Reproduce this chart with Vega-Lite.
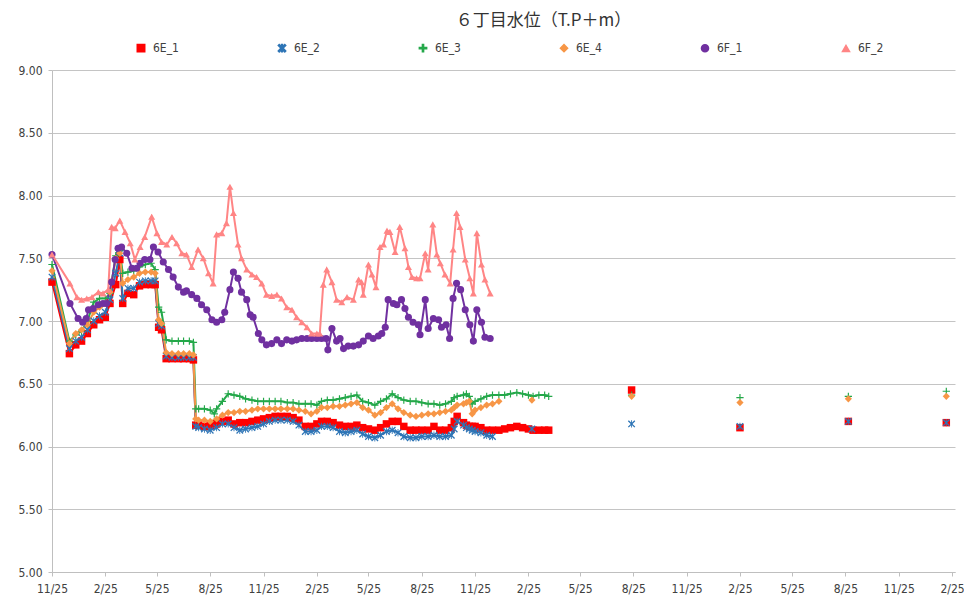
{
"$schema":"https://vega.github.io/schema/vega-lite/v6.json",
"width":903,"height":502,
"autosize":{"type":"none"},
"padding":{"left":52,"top":70,"right":9,"bottom":27},
"background":"white",
"title":{"text":"６丁目水位（T.P＋m）","fontSize":17,"font":"Noto Sans CJK JP","fontWeight":"normal","color":"#333333","anchor":"middle","dx":40,"offset":12},
"config":{"view":{"stroke":null},
"axis":{"labelFont":"Liberation Sans Narrow, DejaVu Sans Condensed, sans-serif","labelFontSize":12,"labelColor":"#404040","domainColor":"#BFBFBF","tickColor":"#BFBFBF","gridColor":"#C4C4C4","title":null},
"legend":{"labelFont":"Liberation Sans Narrow, DejaVu Sans Condensed, sans-serif","labelFontSize":12,"labelColor":"#404040"}},
"data":{"values":[
{"d":"2012-11-25","s":"6E_1","v":7.31,"g":0},{"d":"2012-12-25","s":"6E_1","v":6.74,"g":0},{"d":"2013-01-05","s":"6E_1","v":6.81,"g":0},{"d":"2013-01-15","s":"6E_1","v":6.84,"g":0},{"d":"2013-01-25","s":"6E_1","v":6.90,"g":0},{"d":"2013-02-05","s":"6E_1","v":6.97,"g":0},{"d":"2013-02-15","s":"6E_1","v":7.01,"g":0},{"d":"2013-02-25","s":"6E_1","v":7.03,"g":0},{"d":"2013-03-05","s":"6E_1","v":7.14,"g":0},{"d":"2013-03-15","s":"6E_1","v":7.29,"g":0},{"d":"2013-03-22","s":"6E_1","v":7.49,"g":0},{"d":"2013-03-27","s":"6E_1","v":7.14,"g":0},{"d":"2013-04-05","s":"6E_1","v":7.22,"g":0},{"d":"2013-04-15","s":"6E_1","v":7.21,"g":0},{"d":"2013-04-25","s":"6E_1","v":7.28,"g":0},{"d":"2013-05-05","s":"6E_1","v":7.29,"g":0},{"d":"2013-05-15","s":"6E_1","v":7.29,"g":0},{"d":"2013-05-22","s":"6E_1","v":7.29,"g":0},{"d":"2013-05-28","s":"6E_1","v":6.95,"g":0},{"d":"2013-06-02","s":"6E_1","v":6.93,"g":0},{"d":"2013-06-10","s":"6E_1","v":6.70,"g":0},{"d":"2013-06-20","s":"6E_1","v":6.70,"g":0},{"d":"2013-07-01","s":"6E_1","v":6.70,"g":0},{"d":"2013-07-10","s":"6E_1","v":6.70,"g":0},{"d":"2013-07-20","s":"6E_1","v":6.70,"g":0},{"d":"2013-07-27","s":"6E_1","v":6.69,"g":0},{"d":"2013-07-31","s":"6E_1","v":6.17,"g":0},{"d":"2013-08-05","s":"6E_1","v":6.17,"g":0},{"d":"2013-08-15","s":"6E_1","v":6.16,"g":0},{"d":"2013-08-25","s":"6E_1","v":6.17,"g":0},{"d":"2013-09-05","s":"6E_1","v":6.18,"g":0},{"d":"2013-09-15","s":"6E_1","v":6.20,"g":0},{"d":"2013-09-25","s":"6E_1","v":6.21,"g":0},{"d":"2013-10-05","s":"6E_1","v":6.18,"g":0},{"d":"2013-10-15","s":"6E_1","v":6.19,"g":0},{"d":"2013-10-25","s":"6E_1","v":6.19,"g":0},{"d":"2013-11-05","s":"6E_1","v":6.20,"g":0},{"d":"2013-11-15","s":"6E_1","v":6.21,"g":0},{"d":"2013-11-25","s":"6E_1","v":6.22,"g":0},{"d":"2013-12-05","s":"6E_1","v":6.23,"g":0},{"d":"2013-12-15","s":"6E_1","v":6.24,"g":0},{"d":"2013-12-25","s":"6E_1","v":6.24,"g":0},{"d":"2014-01-05","s":"6E_1","v":6.24,"g":0},{"d":"2014-01-15","s":"6E_1","v":6.23,"g":0},{"d":"2014-01-25","s":"6E_1","v":6.21,"g":0},{"d":"2014-02-05","s":"6E_1","v":6.16,"g":0},{"d":"2014-02-15","s":"6E_1","v":6.16,"g":0},{"d":"2014-02-25","s":"6E_1","v":6.18,"g":0},{"d":"2014-03-05","s":"6E_1","v":6.20,"g":0},{"d":"2014-03-15","s":"6E_1","v":6.20,"g":0},{"d":"2014-03-25","s":"6E_1","v":6.19,"g":0},{"d":"2014-04-05","s":"6E_1","v":6.17,"g":0},{"d":"2014-04-15","s":"6E_1","v":6.16,"g":0},{"d":"2014-04-25","s":"6E_1","v":6.16,"g":0},{"d":"2014-05-05","s":"6E_1","v":6.17,"g":0},{"d":"2014-05-15","s":"6E_1","v":6.15,"g":0},{"d":"2014-05-25","s":"6E_1","v":6.14,"g":0},{"d":"2014-06-05","s":"6E_1","v":6.13,"g":0},{"d":"2014-06-15","s":"6E_1","v":6.15,"g":0},{"d":"2014-06-25","s":"6E_1","v":6.18,"g":0},{"d":"2014-07-05","s":"6E_1","v":6.20,"g":0},{"d":"2014-07-15","s":"6E_1","v":6.20,"g":0},{"d":"2014-07-25","s":"6E_1","v":6.16,"g":0},{"d":"2014-08-05","s":"6E_1","v":6.13,"g":0},{"d":"2014-08-15","s":"6E_1","v":6.13,"g":0},{"d":"2014-08-25","s":"6E_1","v":6.13,"g":0},{"d":"2014-09-05","s":"6E_1","v":6.13,"g":0},{"d":"2014-09-15","s":"6E_1","v":6.16,"g":0},{"d":"2014-09-25","s":"6E_1","v":6.13,"g":0},{"d":"2014-10-05","s":"6E_1","v":6.13,"g":0},{"d":"2014-10-15","s":"6E_1","v":6.15,"g":0},{"d":"2014-10-20","s":"6E_1","v":6.20,"g":0},{"d":"2014-10-25","s":"6E_1","v":6.24,"g":0},{"d":"2014-11-05","s":"6E_1","v":6.19,"g":0},{"d":"2014-11-10","s":"6E_1","v":6.17,"g":0},{"d":"2014-11-15","s":"6E_1","v":6.16,"g":0},{"d":"2014-11-20","s":"6E_1","v":6.16,"g":0},{"d":"2014-11-25","s":"6E_1","v":6.16,"g":0},{"d":"2014-12-05","s":"6E_1","v":6.15,"g":0},{"d":"2014-12-15","s":"6E_1","v":6.13,"g":0},{"d":"2014-12-25","s":"6E_1","v":6.13,"g":0},{"d":"2015-01-05","s":"6E_1","v":6.13,"g":0},{"d":"2015-01-15","s":"6E_1","v":6.14,"g":0},{"d":"2015-01-25","s":"6E_1","v":6.15,"g":0},{"d":"2015-02-05","s":"6E_1","v":6.16,"g":0},{"d":"2015-02-15","s":"6E_1","v":6.15,"g":0},{"d":"2015-02-25","s":"6E_1","v":6.14,"g":0},{"d":"2015-03-05","s":"6E_1","v":6.13,"g":0},{"d":"2015-03-15","s":"6E_1","v":6.13,"g":0},{"d":"2015-03-25","s":"6E_1","v":6.13,"g":0},{"d":"2015-04-01","s":"6E_1","v":6.13,"g":0},
{"d":"2015-08-22","s":"6E_1","v":6.45,"g":1},{"d":"2016-02-25","s":"6E_1","v":6.15,"g":2},{"d":"2016-08-30","s":"6E_1","v":6.20,"g":3},{"d":"2017-02-15","s":"6E_1","v":6.19,"g":4},
{"d":"2012-11-25","s":"6E_2","v":7.35,"g":0},{"d":"2012-12-25","s":"6E_2","v":6.78,"g":0},{"d":"2013-01-05","s":"6E_2","v":6.84,"g":0},{"d":"2013-01-15","s":"6E_2","v":6.87,"g":0},{"d":"2013-01-25","s":"6E_2","v":6.93,"g":0},{"d":"2013-02-05","s":"6E_2","v":7.00,"g":0},{"d":"2013-02-15","s":"6E_2","v":7.04,"g":0},{"d":"2013-02-25","s":"6E_2","v":7.07,"g":0},{"d":"2013-03-05","s":"6E_2","v":7.17,"g":0},{"d":"2013-03-15","s":"6E_2","v":7.38,"g":0},{"d":"2013-03-22","s":"6E_2","v":7.54,"g":0},{"d":"2013-03-27","s":"6E_2","v":7.18,"g":0},{"d":"2013-04-05","s":"6E_2","v":7.26,"g":0},{"d":"2013-04-15","s":"6E_2","v":7.26,"g":0},{"d":"2013-04-25","s":"6E_2","v":7.31,"g":0},{"d":"2013-05-05","s":"6E_2","v":7.32,"g":0},{"d":"2013-05-15","s":"6E_2","v":7.32,"g":0},{"d":"2013-05-22","s":"6E_2","v":7.32,"g":0},{"d":"2013-05-28","s":"6E_2","v":6.98,"g":0},{"d":"2013-06-02","s":"6E_2","v":6.96,"g":0},{"d":"2013-06-10","s":"6E_2","v":6.72,"g":0},{"d":"2013-06-20","s":"6E_2","v":6.71,"g":0},{"d":"2013-07-01","s":"6E_2","v":6.71,"g":0},{"d":"2013-07-10","s":"6E_2","v":6.71,"g":0},{"d":"2013-07-20","s":"6E_2","v":6.71,"g":0},{"d":"2013-07-27","s":"6E_2","v":6.71,"g":0},{"d":"2013-07-31","s":"6E_2","v":6.16,"g":0},{"d":"2013-08-05","s":"6E_2","v":6.15,"g":0},{"d":"2013-08-15","s":"6E_2","v":6.14,"g":0},{"d":"2013-08-25","s":"6E_2","v":6.13,"g":0},{"d":"2013-09-05","s":"6E_2","v":6.15,"g":0},{"d":"2013-09-15","s":"6E_2","v":6.18,"g":0},{"d":"2013-09-25","s":"6E_2","v":6.18,"g":0},{"d":"2013-10-05","s":"6E_2","v":6.15,"g":0},{"d":"2013-10-15","s":"6E_2","v":6.13,"g":0},{"d":"2013-10-25","s":"6E_2","v":6.14,"g":0},{"d":"2013-11-05","s":"6E_2","v":6.15,"g":0},{"d":"2013-11-15","s":"6E_2","v":6.16,"g":0},{"d":"2013-11-25","s":"6E_2","v":6.18,"g":0},{"d":"2013-12-05","s":"6E_2","v":6.20,"g":0},{"d":"2013-12-15","s":"6E_2","v":6.21,"g":0},{"d":"2013-12-25","s":"6E_2","v":6.21,"g":0},{"d":"2014-01-05","s":"6E_2","v":6.21,"g":0},{"d":"2014-01-15","s":"6E_2","v":6.20,"g":0},{"d":"2014-01-25","s":"6E_2","v":6.17,"g":0},{"d":"2014-02-05","s":"6E_2","v":6.12,"g":0},{"d":"2014-02-15","s":"6E_2","v":6.12,"g":0},{"d":"2014-02-25","s":"6E_2","v":6.13,"g":0},{"d":"2014-03-05","s":"6E_2","v":6.16,"g":0},{"d":"2014-03-15","s":"6E_2","v":6.16,"g":0},{"d":"2014-03-25","s":"6E_2","v":6.15,"g":0},{"d":"2014-04-05","s":"6E_2","v":6.12,"g":0},{"d":"2014-04-15","s":"6E_2","v":6.11,"g":0},{"d":"2014-04-25","s":"6E_2","v":6.12,"g":0},{"d":"2014-05-05","s":"6E_2","v":6.13,"g":0},{"d":"2014-05-15","s":"6E_2","v":6.10,"g":0},{"d":"2014-05-25","s":"6E_2","v":6.08,"g":0},{"d":"2014-06-05","s":"6E_2","v":6.07,"g":0},{"d":"2014-06-15","s":"6E_2","v":6.09,"g":0},{"d":"2014-06-25","s":"6E_2","v":6.12,"g":0},{"d":"2014-07-05","s":"6E_2","v":6.13,"g":0},{"d":"2014-07-15","s":"6E_2","v":6.11,"g":0},{"d":"2014-07-25","s":"6E_2","v":6.08,"g":0},{"d":"2014-08-05","s":"6E_2","v":6.07,"g":0},{"d":"2014-08-15","s":"6E_2","v":6.07,"g":0},{"d":"2014-08-25","s":"6E_2","v":6.08,"g":0},{"d":"2014-09-05","s":"6E_2","v":6.08,"g":0},{"d":"2014-09-15","s":"6E_2","v":6.09,"g":0},{"d":"2014-09-25","s":"6E_2","v":6.08,"g":0},{"d":"2014-10-05","s":"6E_2","v":6.08,"g":0},{"d":"2014-10-15","s":"6E_2","v":6.09,"g":0},{"d":"2014-10-20","s":"6E_2","v":6.14,"g":0},{"d":"2014-10-25","s":"6E_2","v":6.20,"g":0},{"d":"2014-11-05","s":"6E_2","v":6.17,"g":0},{"d":"2014-11-10","s":"6E_2","v":6.15,"g":0},{"d":"2014-11-15","s":"6E_2","v":6.14,"g":0},{"d":"2014-11-20","s":"6E_2","v":6.13,"g":0},{"d":"2014-11-25","s":"6E_2","v":6.12,"g":0},{"d":"2014-12-05","s":"6E_2","v":6.11,"g":0},{"d":"2014-12-15","s":"6E_2","v":6.09,"g":0},{"d":"2014-12-25","s":"6E_2","v":6.08,"g":0},
{"d":"2015-03-03","s":"6E_2","v":6.14,"g":1},{"d":"2015-08-22","s":"6E_2","v":6.18,"g":2},{"d":"2016-02-25","s":"6E_2","v":6.16,"g":3},{"d":"2016-08-30","s":"6E_2","v":6.20,"g":4},{"d":"2017-02-15","s":"6E_2","v":6.19,"g":5},
{"d":"2012-11-25","s":"6E_3","v":7.45,"g":0},{"d":"2012-12-25","s":"6E_3","v":6.84,"g":0},{"d":"2013-01-05","s":"6E_3","v":6.89,"g":0},{"d":"2013-01-15","s":"6E_3","v":6.92,"g":0},{"d":"2013-01-25","s":"6E_3","v":7.00,"g":0},{"d":"2013-02-05","s":"6E_3","v":7.15,"g":0},{"d":"2013-02-15","s":"6E_3","v":7.18,"g":0},{"d":"2013-02-25","s":"6E_3","v":7.18,"g":0},{"d":"2013-03-05","s":"6E_3","v":7.22,"g":0},{"d":"2013-03-15","s":"6E_3","v":7.52,"g":0},{"d":"2013-03-22","s":"6E_3","v":7.56,"g":0},{"d":"2013-03-27","s":"6E_3","v":7.38,"g":0},{"d":"2013-04-05","s":"6E_3","v":7.39,"g":0},{"d":"2013-04-15","s":"6E_3","v":7.40,"g":0},{"d":"2013-04-25","s":"6E_3","v":7.43,"g":0},{"d":"2013-05-05","s":"6E_3","v":7.45,"g":0},{"d":"2013-05-15","s":"6E_3","v":7.46,"g":0},{"d":"2013-05-22","s":"6E_3","v":7.41,"g":0},{"d":"2013-05-28","s":"6E_3","v":7.11,"g":0},{"d":"2013-06-02","s":"6E_3","v":7.07,"g":0},{"d":"2013-06-10","s":"6E_3","v":6.85,"g":0},{"d":"2013-06-20","s":"6E_3","v":6.84,"g":0},{"d":"2013-07-01","s":"6E_3","v":6.84,"g":0},{"d":"2013-07-10","s":"6E_3","v":6.84,"g":0},{"d":"2013-07-20","s":"6E_3","v":6.84,"g":0},{"d":"2013-07-27","s":"6E_3","v":6.83,"g":0},{"d":"2013-07-31","s":"6E_3","v":6.30,"g":0},{"d":"2013-08-05","s":"6E_3","v":6.30,"g":0},{"d":"2013-08-15","s":"6E_3","v":6.30,"g":0},{"d":"2013-08-25","s":"6E_3","v":6.29,"g":0},{"d":"2013-09-01","s":"6E_3","v":6.26,"g":0},{"d":"2013-09-05","s":"6E_3","v":6.30,"g":0},{"d":"2013-09-15","s":"6E_3","v":6.36,"g":0},{"d":"2013-09-25","s":"6E_3","v":6.42,"g":0},{"d":"2013-10-05","s":"6E_3","v":6.41,"g":0},{"d":"2013-10-15","s":"6E_3","v":6.40,"g":0},{"d":"2013-10-25","s":"6E_3","v":6.38,"g":0},{"d":"2013-11-05","s":"6E_3","v":6.37,"g":0},{"d":"2013-11-15","s":"6E_3","v":6.36,"g":0},{"d":"2013-11-25","s":"6E_3","v":6.36,"g":0},{"d":"2013-12-05","s":"6E_3","v":6.36,"g":0},{"d":"2013-12-15","s":"6E_3","v":6.36,"g":0},{"d":"2013-12-25","s":"6E_3","v":6.36,"g":0},{"d":"2014-01-05","s":"6E_3","v":6.35,"g":0},{"d":"2014-01-15","s":"6E_3","v":6.35,"g":0},{"d":"2014-01-25","s":"6E_3","v":6.34,"g":0},{"d":"2014-02-05","s":"6E_3","v":6.34,"g":0},{"d":"2014-02-15","s":"6E_3","v":6.34,"g":0},{"d":"2014-02-25","s":"6E_3","v":6.33,"g":0},{"d":"2014-03-05","s":"6E_3","v":6.36,"g":0},{"d":"2014-03-15","s":"6E_3","v":6.37,"g":0},{"d":"2014-03-25","s":"6E_3","v":6.37,"g":0},{"d":"2014-04-05","s":"6E_3","v":6.38,"g":0},{"d":"2014-04-15","s":"6E_3","v":6.39,"g":0},{"d":"2014-04-25","s":"6E_3","v":6.40,"g":0},{"d":"2014-05-05","s":"6E_3","v":6.41,"g":0},{"d":"2014-05-15","s":"6E_3","v":6.36,"g":0},{"d":"2014-05-25","s":"6E_3","v":6.35,"g":0},{"d":"2014-06-05","s":"6E_3","v":6.33,"g":0},{"d":"2014-06-15","s":"6E_3","v":6.36,"g":0},{"d":"2014-06-25","s":"6E_3","v":6.38,"g":0},{"d":"2014-07-05","s":"6E_3","v":6.42,"g":0},{"d":"2014-07-15","s":"6E_3","v":6.39,"g":0},{"d":"2014-07-25","s":"6E_3","v":6.37,"g":0},{"d":"2014-08-05","s":"6E_3","v":6.36,"g":0},{"d":"2014-08-15","s":"6E_3","v":6.36,"g":0},{"d":"2014-08-25","s":"6E_3","v":6.35,"g":0},{"d":"2014-09-05","s":"6E_3","v":6.34,"g":0},{"d":"2014-09-15","s":"6E_3","v":6.34,"g":0},{"d":"2014-09-25","s":"6E_3","v":6.33,"g":0},{"d":"2014-10-05","s":"6E_3","v":6.34,"g":0},{"d":"2014-10-15","s":"6E_3","v":6.36,"g":0},{"d":"2014-10-20","s":"6E_3","v":6.39,"g":0},{"d":"2014-10-25","s":"6E_3","v":6.40,"g":0},{"d":"2014-11-05","s":"6E_3","v":6.41,"g":0},{"d":"2014-11-10","s":"6E_3","v":6.42,"g":0},{"d":"2014-11-15","s":"6E_3","v":6.40,"g":0},{"d":"2014-11-20","s":"6E_3","v":6.34,"g":0},{"d":"2014-11-25","s":"6E_3","v":6.36,"g":0},{"d":"2014-12-05","s":"6E_3","v":6.38,"g":0},{"d":"2014-12-15","s":"6E_3","v":6.40,"g":0},{"d":"2014-12-25","s":"6E_3","v":6.41,"g":0},{"d":"2015-01-05","s":"6E_3","v":6.41,"g":0},{"d":"2015-01-15","s":"6E_3","v":6.41,"g":0},{"d":"2015-01-25","s":"6E_3","v":6.42,"g":0},{"d":"2015-02-05","s":"6E_3","v":6.43,"g":0},{"d":"2015-02-15","s":"6E_3","v":6.42,"g":0},{"d":"2015-02-25","s":"6E_3","v":6.41,"g":0},{"d":"2015-03-05","s":"6E_3","v":6.40,"g":0},{"d":"2015-03-15","s":"6E_3","v":6.41,"g":0},{"d":"2015-03-25","s":"6E_3","v":6.41,"g":0},{"d":"2015-04-01","s":"6E_3","v":6.40,"g":0},
{"d":"2015-08-22","s":"6E_3","v":6.41,"g":1},{"d":"2016-02-25","s":"6E_3","v":6.39,"g":2},{"d":"2016-08-30","s":"6E_3","v":6.40,"g":3},{"d":"2017-02-15","s":"6E_3","v":6.44,"g":4},
{"d":"2012-11-25","s":"6E_4","v":7.40,"g":0},{"d":"2012-12-25","s":"6E_4","v":6.82,"g":0},{"d":"2013-01-05","s":"6E_4","v":6.90,"g":0},{"d":"2013-01-15","s":"6E_4","v":6.93,"g":0},{"d":"2013-01-25","s":"6E_4","v":6.97,"g":0},{"d":"2013-02-05","s":"6E_4","v":7.07,"g":0},{"d":"2013-02-15","s":"6E_4","v":7.11,"g":0},{"d":"2013-02-25","s":"6E_4","v":7.14,"g":0},{"d":"2013-03-05","s":"6E_4","v":7.23,"g":0},{"d":"2013-03-15","s":"6E_4","v":7.50,"g":0},{"d":"2013-03-22","s":"6E_4","v":7.54,"g":0},{"d":"2013-03-27","s":"6E_4","v":7.30,"g":0},{"d":"2013-04-05","s":"6E_4","v":7.33,"g":0},{"d":"2013-04-15","s":"6E_4","v":7.35,"g":0},{"d":"2013-04-25","s":"6E_4","v":7.38,"g":0},{"d":"2013-05-05","s":"6E_4","v":7.39,"g":0},{"d":"2013-05-15","s":"6E_4","v":7.39,"g":0},{"d":"2013-05-22","s":"6E_4","v":7.38,"g":0},{"d":"2013-05-28","s":"6E_4","v":7.01,"g":0},{"d":"2013-06-02","s":"6E_4","v":6.98,"g":0},{"d":"2013-06-10","s":"6E_4","v":6.75,"g":0},{"d":"2013-06-20","s":"6E_4","v":6.74,"g":0},{"d":"2013-07-01","s":"6E_4","v":6.74,"g":0},{"d":"2013-07-10","s":"6E_4","v":6.74,"g":0},{"d":"2013-07-20","s":"6E_4","v":6.74,"g":0},{"d":"2013-07-27","s":"6E_4","v":6.73,"g":0},{"d":"2013-07-31","s":"6E_4","v":6.22,"g":0},{"d":"2013-08-05","s":"6E_4","v":6.21,"g":0},{"d":"2013-08-15","s":"6E_4","v":6.21,"g":0},{"d":"2013-08-25","s":"6E_4","v":6.20,"g":0},{"d":"2013-09-05","s":"6E_4","v":6.22,"g":0},{"d":"2013-09-15","s":"6E_4","v":6.25,"g":0},{"d":"2013-09-25","s":"6E_4","v":6.27,"g":0},{"d":"2013-10-05","s":"6E_4","v":6.27,"g":0},{"d":"2013-10-15","s":"6E_4","v":6.28,"g":0},{"d":"2013-10-25","s":"6E_4","v":6.28,"g":0},{"d":"2013-11-05","s":"6E_4","v":6.29,"g":0},{"d":"2013-11-15","s":"6E_4","v":6.30,"g":0},{"d":"2013-11-25","s":"6E_4","v":6.30,"g":0},{"d":"2013-12-05","s":"6E_4","v":6.30,"g":0},{"d":"2013-12-15","s":"6E_4","v":6.30,"g":0},{"d":"2013-12-25","s":"6E_4","v":6.30,"g":0},{"d":"2014-01-05","s":"6E_4","v":6.30,"g":0},{"d":"2014-01-15","s":"6E_4","v":6.30,"g":0},{"d":"2014-01-25","s":"6E_4","v":6.29,"g":0},{"d":"2014-02-05","s":"6E_4","v":6.28,"g":0},{"d":"2014-02-15","s":"6E_4","v":6.26,"g":0},{"d":"2014-02-25","s":"6E_4","v":6.28,"g":0},{"d":"2014-03-05","s":"6E_4","v":6.31,"g":0},{"d":"2014-03-15","s":"6E_4","v":6.31,"g":0},{"d":"2014-03-25","s":"6E_4","v":6.32,"g":0},{"d":"2014-04-05","s":"6E_4","v":6.32,"g":0},{"d":"2014-04-15","s":"6E_4","v":6.33,"g":0},{"d":"2014-04-25","s":"6E_4","v":6.34,"g":0},{"d":"2014-05-05","s":"6E_4","v":6.35,"g":0},{"d":"2014-05-15","s":"6E_4","v":6.31,"g":0},{"d":"2014-05-25","s":"6E_4","v":6.29,"g":0},{"d":"2014-06-05","s":"6E_4","v":6.25,"g":0},{"d":"2014-06-15","s":"6E_4","v":6.27,"g":0},{"d":"2014-06-25","s":"6E_4","v":6.31,"g":0},{"d":"2014-07-05","s":"6E_4","v":6.34,"g":0},{"d":"2014-07-15","s":"6E_4","v":6.30,"g":0},{"d":"2014-07-25","s":"6E_4","v":6.27,"g":0},{"d":"2014-08-05","s":"6E_4","v":6.25,"g":0},{"d":"2014-08-15","s":"6E_4","v":6.24,"g":0},{"d":"2014-08-25","s":"6E_4","v":6.25,"g":0},{"d":"2014-09-05","s":"6E_4","v":6.26,"g":0},{"d":"2014-09-15","s":"6E_4","v":6.26,"g":0},{"d":"2014-09-25","s":"6E_4","v":6.27,"g":0},{"d":"2014-10-05","s":"6E_4","v":6.28,"g":0},{"d":"2014-10-15","s":"6E_4","v":6.29,"g":0},{"d":"2014-10-20","s":"6E_4","v":6.31,"g":0},{"d":"2014-10-25","s":"6E_4","v":6.33,"g":0},{"d":"2014-11-05","s":"6E_4","v":6.34,"g":0},{"d":"2014-11-10","s":"6E_4","v":6.35,"g":0},{"d":"2014-11-15","s":"6E_4","v":6.36,"g":0},{"d":"2014-11-20","s":"6E_4","v":6.26,"g":0},{"d":"2014-11-25","s":"6E_4","v":6.29,"g":0},{"d":"2014-12-05","s":"6E_4","v":6.31,"g":0},{"d":"2014-12-15","s":"6E_4","v":6.33,"g":0},{"d":"2014-12-25","s":"6E_4","v":6.34,"g":0},{"d":"2015-01-05","s":"6E_4","v":6.36,"g":0},
{"d":"2015-03-03","s":"6E_4","v":6.37,"g":1},{"d":"2015-08-22","s":"6E_4","v":6.40,"g":2},{"d":"2016-02-25","s":"6E_4","v":6.35,"g":3},{"d":"2016-08-30","s":"6E_4","v":6.38,"g":4},{"d":"2017-02-15","s":"6E_4","v":6.40,"g":5},
{"d":"2012-11-25","s":"6F_1","v":7.53,"g":0},{"d":"2012-12-26","s":"6F_1","v":7.14,"g":0},{"d":"2013-01-09","s":"6F_1","v":7.02,"g":0},{"d":"2013-01-17","s":"6F_1","v":6.99,"g":0},{"d":"2013-01-23","s":"6F_1","v":7.02,"g":0},{"d":"2013-01-27","s":"6F_1","v":7.09,"g":0},{"d":"2013-02-04","s":"6F_1","v":7.10,"g":0},{"d":"2013-02-13","s":"6F_1","v":7.13,"g":0},{"d":"2013-02-21","s":"6F_1","v":7.14,"g":0},{"d":"2013-02-27","s":"6F_1","v":7.14,"g":0},{"d":"2013-03-08","s":"6F_1","v":7.31,"g":0},{"d":"2013-03-14","s":"6F_1","v":7.49,"g":0},{"d":"2013-03-19","s":"6F_1","v":7.58,"g":0},{"d":"2013-03-25","s":"6F_1","v":7.59,"g":0},{"d":"2013-04-03","s":"6F_1","v":7.54,"g":0},{"d":"2013-04-12","s":"6F_1","v":7.42,"g":0},{"d":"2013-04-20","s":"6F_1","v":7.42,"g":0},{"d":"2013-04-26","s":"6F_1","v":7.46,"g":0},{"d":"2013-05-04","s":"6F_1","v":7.49,"g":0},{"d":"2013-05-13","s":"6F_1","v":7.49,"g":0},{"d":"2013-05-19","s":"6F_1","v":7.59,"g":0},{"d":"2013-05-27","s":"6F_1","v":7.55,"g":0},{"d":"2013-06-05","s":"6F_1","v":7.47,"g":0},{"d":"2013-06-14","s":"6F_1","v":7.41,"g":0},{"d":"2013-06-22","s":"6F_1","v":7.35,"g":0},{"d":"2013-07-01","s":"6F_1","v":7.27,"g":0},{"d":"2013-07-10","s":"6F_1","v":7.23,"g":0},{"d":"2013-07-15","s":"6F_1","v":7.24,"g":0},{"d":"2013-07-24","s":"6F_1","v":7.21,"g":0},{"d":"2013-08-02","s":"6F_1","v":7.18,"g":0},{"d":"2013-08-10","s":"6F_1","v":7.13,"g":0},{"d":"2013-08-19","s":"6F_1","v":7.09,"g":0},{"d":"2013-08-28","s":"6F_1","v":7.01,"g":0},{"d":"2013-09-05","s":"6F_1","v":6.99,"g":0},{"d":"2013-09-14","s":"6F_1","v":7.01,"g":0},{"d":"2013-09-19","s":"6F_1","v":7.07,"g":0},{"d":"2013-09-28","s":"6F_1","v":7.25,"g":0},{"d":"2013-10-04","s":"6F_1","v":7.39,"g":0},{"d":"2013-10-12","s":"6F_1","v":7.34,"g":0},{"d":"2013-10-18","s":"6F_1","v":7.23,"g":0},{"d":"2013-10-27","s":"6F_1","v":7.17,"g":0},{"d":"2013-11-02","s":"6F_1","v":7.05,"g":0},{"d":"2013-11-07","s":"6F_1","v":7.03,"g":0},{"d":"2013-11-16","s":"6F_1","v":6.90,"g":0},{"d":"2013-11-22","s":"6F_1","v":6.85,"g":0},{"d":"2013-11-30","s":"6F_1","v":6.81,"g":0},{"d":"2013-12-09","s":"6F_1","v":6.82,"g":0},{"d":"2013-12-18","s":"6F_1","v":6.85,"g":0},{"d":"2013-12-26","s":"6F_1","v":6.82,"g":0},{"d":"2014-01-04","s":"6F_1","v":6.85,"g":0},{"d":"2014-01-13","s":"6F_1","v":6.84,"g":0},{"d":"2014-01-21","s":"6F_1","v":6.85,"g":0},{"d":"2014-01-30","s":"6F_1","v":6.86,"g":0},{"d":"2014-02-08","s":"6F_1","v":6.86,"g":0},{"d":"2014-02-16","s":"6F_1","v":6.86,"g":0},{"d":"2014-02-25","s":"6F_1","v":6.86,"g":0},{"d":"2014-03-05","s":"6F_1","v":6.86,"g":0},{"d":"2014-03-13","s":"6F_1","v":6.86,"g":0},{"d":"2014-03-16","s":"6F_1","v":6.77,"g":0},{"d":"2014-03-23","s":"6F_1","v":6.94,"g":0},{"d":"2014-03-31","s":"6F_1","v":6.84,"g":0},{"d":"2014-04-06","s":"6F_1","v":6.86,"g":0},{"d":"2014-04-12","s":"6F_1","v":6.78,"g":0},{"d":"2014-04-20","s":"6F_1","v":6.80,"g":0},{"d":"2014-04-29","s":"6F_1","v":6.80,"g":0},{"d":"2014-05-08","s":"6F_1","v":6.81,"g":0},{"d":"2014-05-16","s":"6F_1","v":6.84,"g":0},{"d":"2014-05-25","s":"6F_1","v":6.88,"g":0},{"d":"2014-06-02","s":"6F_1","v":6.86,"g":0},{"d":"2014-06-11","s":"6F_1","v":6.88,"g":0},{"d":"2014-06-17","s":"6F_1","v":6.90,"g":0},{"d":"2014-06-23","s":"6F_1","v":6.95,"g":0},{"d":"2014-06-28","s":"6F_1","v":7.17,"g":0},{"d":"2014-07-07","s":"6F_1","v":7.14,"g":0},{"d":"2014-07-13","s":"6F_1","v":7.13,"g":0},{"d":"2014-07-21","s":"6F_1","v":7.17,"g":0},{"d":"2014-07-27","s":"6F_1","v":7.10,"g":0},{"d":"2014-08-02","s":"6F_1","v":7.03,"g":0},{"d":"2014-08-10","s":"6F_1","v":6.99,"g":0},{"d":"2014-08-19","s":"6F_1","v":6.97,"g":0},{"d":"2014-08-22","s":"6F_1","v":6.89,"g":0},{"d":"2014-08-31","s":"6F_1","v":7.17,"g":0},{"d":"2014-09-05","s":"6F_1","v":6.94,"g":0},{"d":"2014-09-14","s":"6F_1","v":7.02,"g":0},{"d":"2014-09-23","s":"6F_1","v":7.01,"g":0},{"d":"2014-09-28","s":"6F_1","v":6.95,"g":0},{"d":"2014-10-06","s":"6F_1","v":6.97,"g":0},{"d":"2014-10-12","s":"6F_1","v":6.86,"g":0},{"d":"2014-10-18","s":"6F_1","v":7.18,"g":0},{"d":"2014-10-24","s":"6F_1","v":7.30,"g":0},{"d":"2014-10-31","s":"6F_1","v":7.25,"g":0},{"d":"2014-11-08","s":"6F_1","v":7.09,"g":0},{"d":"2014-11-16","s":"6F_1","v":6.97,"g":0},{"d":"2014-11-22","s":"6F_1","v":6.84,"g":0},{"d":"2014-11-28","s":"6F_1","v":7.09,"g":0},{"d":"2014-12-06","s":"6F_1","v":6.99,"g":0},{"d":"2014-12-12","s":"6F_1","v":6.87,"g":0},{"d":"2014-12-21","s":"6F_1","v":6.86,"g":0},
{"d":"2012-11-25","s":"6F_2","v":7.53,"g":0},{"d":"2012-12-26","s":"6F_2","v":7.30,"g":0},{"d":"2013-01-07","s":"6F_2","v":7.19,"g":0},{"d":"2013-01-15","s":"6F_2","v":7.17,"g":0},{"d":"2013-01-24","s":"6F_2","v":7.18,"g":0},{"d":"2013-02-02","s":"6F_2","v":7.19,"g":0},{"d":"2013-02-13","s":"6F_2","v":7.23,"g":0},{"d":"2013-02-21","s":"6F_2","v":7.22,"g":0},{"d":"2013-03-02","s":"6F_2","v":7.25,"g":0},{"d":"2013-03-08","s":"6F_2","v":7.75,"g":0},{"d":"2013-03-14","s":"6F_2","v":7.74,"g":0},{"d":"2013-03-22","s":"6F_2","v":7.80,"g":0},{"d":"2013-03-31","s":"6F_2","v":7.71,"g":0},{"d":"2013-04-09","s":"6F_2","v":7.62,"g":0},{"d":"2013-04-17","s":"6F_2","v":7.49,"g":0},{"d":"2013-04-26","s":"6F_2","v":7.59,"g":0},{"d":"2013-05-04","s":"6F_2","v":7.67,"g":0},{"d":"2013-05-16","s":"6F_2","v":7.83,"g":0},{"d":"2013-05-25","s":"6F_2","v":7.70,"g":0},{"d":"2013-06-02","s":"6F_2","v":7.63,"g":0},{"d":"2013-06-11","s":"6F_2","v":7.61,"g":0},{"d":"2013-06-20","s":"6F_2","v":7.67,"g":0},{"d":"2013-06-28","s":"6F_2","v":7.62,"g":0},{"d":"2013-07-07","s":"6F_2","v":7.54,"g":0},{"d":"2013-07-15","s":"6F_2","v":7.53,"g":0},{"d":"2013-07-24","s":"6F_2","v":7.43,"g":0},{"d":"2013-08-04","s":"6F_2","v":7.57,"g":0},{"d":"2013-08-13","s":"6F_2","v":7.50,"g":0},{"d":"2013-08-22","s":"6F_2","v":7.38,"g":0},{"d":"2013-08-30","s":"6F_2","v":7.30,"g":0},{"d":"2013-09-05","s":"6F_2","v":7.69,"g":0},{"d":"2013-09-14","s":"6F_2","v":7.70,"g":0},{"d":"2013-09-22","s":"6F_2","v":7.78,"g":0},{"d":"2013-09-28","s":"6F_2","v":8.07,"g":0},{"d":"2013-10-04","s":"6F_2","v":7.86,"g":0},{"d":"2013-10-12","s":"6F_2","v":7.61,"g":0},{"d":"2013-10-18","s":"6F_2","v":7.50,"g":0},{"d":"2013-10-27","s":"6F_2","v":7.41,"g":0},{"d":"2013-11-05","s":"6F_2","v":7.37,"g":0},{"d":"2013-11-13","s":"6F_2","v":7.35,"g":0},{"d":"2013-11-22","s":"6F_2","v":7.30,"g":0},{"d":"2013-11-30","s":"6F_2","v":7.21,"g":0},{"d":"2013-12-09","s":"6F_2","v":7.20,"g":0},{"d":"2013-12-18","s":"6F_2","v":7.21,"g":0},{"d":"2013-12-26","s":"6F_2","v":7.18,"g":0},{"d":"2014-01-04","s":"6F_2","v":7.11,"g":0},{"d":"2014-01-13","s":"6F_2","v":7.09,"g":0},{"d":"2014-01-21","s":"6F_2","v":7.03,"g":0},{"d":"2014-01-30","s":"6F_2","v":6.99,"g":0},{"d":"2014-02-08","s":"6F_2","v":6.95,"g":0},{"d":"2014-02-16","s":"6F_2","v":6.90,"g":0},{"d":"2014-02-25","s":"6F_2","v":6.90,"g":0},{"d":"2014-03-02","s":"6F_2","v":6.90,"g":0},{"d":"2014-03-08","s":"6F_2","v":7.29,"g":0},{"d":"2014-03-14","s":"6F_2","v":7.41,"g":0},{"d":"2014-03-23","s":"6F_2","v":7.31,"g":0},{"d":"2014-03-31","s":"6F_2","v":7.17,"g":0},{"d":"2014-04-09","s":"6F_2","v":7.15,"g":0},{"d":"2014-04-18","s":"6F_2","v":7.19,"g":0},{"d":"2014-04-29","s":"6F_2","v":7.17,"g":0},{"d":"2014-05-08","s":"6F_2","v":7.33,"g":0},{"d":"2014-05-13","s":"6F_2","v":7.31,"g":0},{"d":"2014-05-16","s":"6F_2","v":7.21,"g":0},{"d":"2014-05-25","s":"6F_2","v":7.45,"g":0},{"d":"2014-05-31","s":"6F_2","v":7.37,"g":0},{"d":"2014-06-07","s":"6F_2","v":7.27,"g":0},{"d":"2014-06-14","s":"6F_2","v":7.59,"g":0},{"d":"2014-06-20","s":"6F_2","v":7.61,"g":0},{"d":"2014-06-26","s":"6F_2","v":7.72,"g":0},{"d":"2014-07-01","s":"6F_2","v":7.71,"g":0},{"d":"2014-07-10","s":"6F_2","v":7.55,"g":0},{"d":"2014-07-18","s":"6F_2","v":7.75,"g":0},{"d":"2014-07-27","s":"6F_2","v":7.58,"g":0},{"d":"2014-08-02","s":"6F_2","v":7.43,"g":0},{"d":"2014-08-08","s":"6F_2","v":7.35,"g":0},{"d":"2014-08-16","s":"6F_2","v":7.34,"g":0},{"d":"2014-08-22","s":"6F_2","v":7.34,"g":0},{"d":"2014-08-31","s":"6F_2","v":7.54,"g":0},{"d":"2014-09-05","s":"6F_2","v":7.41,"g":0},{"d":"2014-09-13","s":"6F_2","v":7.77,"g":0},{"d":"2014-09-20","s":"6F_2","v":7.53,"g":0},{"d":"2014-09-26","s":"6F_2","v":7.46,"g":0},{"d":"2014-10-04","s":"6F_2","v":7.37,"g":0},{"d":"2014-10-13","s":"6F_2","v":7.30,"g":0},{"d":"2014-10-18","s":"6F_2","v":7.57,"g":0},{"d":"2014-10-24","s":"6F_2","v":7.86,"g":0},{"d":"2014-10-30","s":"6F_2","v":7.75,"g":0},{"d":"2014-11-08","s":"6F_2","v":7.49,"g":0},{"d":"2014-11-16","s":"6F_2","v":7.34,"g":0},{"d":"2014-11-22","s":"6F_2","v":7.22,"g":0},{"d":"2014-11-28","s":"6F_2","v":7.70,"g":0},{"d":"2014-12-06","s":"6F_2","v":7.45,"g":0},{"d":"2014-12-12","s":"6F_2","v":7.33,"g":0},{"d":"2014-12-21","s":"6F_2","v":7.22,"g":0}
]},
"encoding":{
"x":{"field":"d","type":"temporal","scale":{"type":"utc","domain":[{"year":2012,"month":11,"date":25,"utc":true},{"year":2017,"month":3,"date":2,"utc":true}]},
"axis":{"values":[{"year":2012,"month":11,"date":25,"utc":true},{"year":2013,"month":2,"date":25,"utc":true},{"year":2013,"month":5,"date":25,"utc":true},{"year":2013,"month":8,"date":25,"utc":true},{"year":2013,"month":11,"date":25,"utc":true},{"year":2014,"month":2,"date":25,"utc":true},{"year":2014,"month":5,"date":25,"utc":true},{"year":2014,"month":8,"date":25,"utc":true},{"year":2014,"month":11,"date":25,"utc":true},{"year":2015,"month":2,"date":25,"utc":true},{"year":2015,"month":5,"date":25,"utc":true},{"year":2015,"month":8,"date":25,"utc":true},{"year":2015,"month":11,"date":25,"utc":true},{"year":2016,"month":2,"date":25,"utc":true},{"year":2016,"month":5,"date":25,"utc":true},{"year":2016,"month":8,"date":25,"utc":true},{"year":2016,"month":11,"date":25,"utc":true},{"year":2017,"month":2,"date":25,"utc":true}],
"format":"%-m/%-d","grid":false,"tickSize":4,"labelPadding":7,"labelAngle":0,"labelOverlap":false,"labelFlush":false}},
"y":{"field":"v","type":"quantitative","scale":{"domain":[5,9]},"axis":{"values":[5,5.5,6,6.5,7,7.5,8,8.5,9],"format":".2f","grid":true,"tickSize":4,"labelPadding":6}},
"color":{"field":"s","type":"nominal","scale":{"domain":["6E_1","6E_2","6E_3","6E_4","6F_1","6F_2"],"range":["#FF0000","#2E75B6","#24A84A","#F79646","#7030A0","#FF8585"]},
"legend":{"title":null,"orient":"none","legendX":83,"legendY":-28,"direction":"horizontal","columnPadding":96,"symbolSize":60,"labelOffset":6}}
},
"layer":[
{"mark":{"type":"line","strokeWidth":2},"encoding":{"detail":{"field":"g","type":"nominal"}}},
{"mark":{"type":"point","filled":true,"opacity":1,"strokeWidth":0},
"encoding":{
"shape":{"field":"s","type":"nominal","scale":{"domain":["6E_1","6E_2","6E_3","6E_4","6F_1","6F_2"],"range":["square","M0,-0.25L0.75,-1L1,-0.75L0.25,0L1,0.75L0.75,1L0,0.25L-0.75,1L-1,0.75L-0.25,0L-1,-0.75L-0.75,-1Z M-0.12,-1L0.12,-1L0.12,1L-0.12,1Z","M-1,-0.16L-0.16,-0.16L-0.16,-1L0.16,-1L0.16,-0.16L1,-0.16L1,0.16L0.16,0.16L0.16,1L-0.16,1L-0.16,0.16L-1,0.16Z","diamond","circle","triangle-up"]}},
"size":{"field":"s","type":"nominal","scale":{"domain":["6E_1","6E_2","6E_3","6E_4","6F_1","6F_2"],"range":[56,49,64,60,81,81]},"legend":null}
}}
]
}
